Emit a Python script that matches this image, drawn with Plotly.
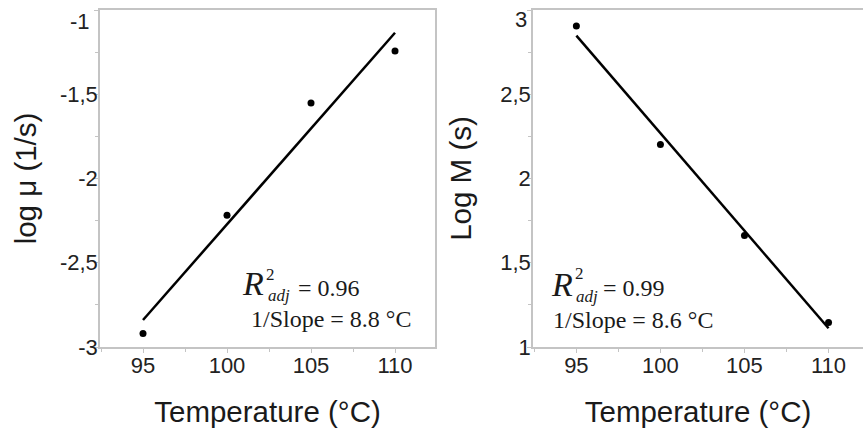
import plotly.graph_objects as go

# ---------------- data ----------------
temperature = [95, 100, 105, 110]
log_mu = [-2.92, -2.218, -1.552, -1.244]
log_m = [2.905, 2.202, 1.662, 1.145]

fit_x = [95, 110]
fit_log_mu = [-2.84, -1.135]
fit_log_m = [2.848, 1.111]

x_ticks = [95, 100, 105, 110]
x_ticktext = ["95", "100", "105", "110"]
y1_ticks = [-3, -2.5, -2, -1.5, -1]
y1_ticktext = ["-3", "-2,5", "-2", "-1,5", "-1"]
y2_ticks = [1, 1.5, 2, 2.5, 3]
y2_ticktext = ["1", "1,5", "2", "2,5", "3"]

r2_left = "0.96"
slope_left = "8.8"
r2_right = "0.99"
slope_right = "8.6"

# ---------------- layout helpers ----------------
W, H = 863, 437
TOP, BOTTOM = 10, 347

def px(x):
    return x / W

def py(y):
    return (BOTTOM - y) / (BOTTOM - TOP)

AX_COLOR = "#c4c4c4"
TXT = "#1a1a1a"
TICK_FONT = dict(family="Liberation Sans, Arial", size=22, color="#222222")
TITLE_FONT = dict(family="Liberation Sans, Arial", size=29.5, color=TXT)
SERIF = "Liberation Serif, Times New Roman, serif"

fig = go.Figure()

fig.add_trace(go.Scatter(x=fit_x, y=fit_log_mu, mode="lines",
                         line=dict(color="black", width=2.5),
                         xaxis="x", yaxis="y", showlegend=False, hoverinfo="skip"))
fig.add_trace(go.Scatter(x=temperature, y=log_mu, mode="markers",
                         marker=dict(color="black", size=7),
                         xaxis="x", yaxis="y", showlegend=False))
fig.add_trace(go.Scatter(x=fit_x, y=fit_log_m, mode="lines",
                         line=dict(color="black", width=2.5),
                         xaxis="x2", yaxis="y2", showlegend=False, hoverinfo="skip"))
fig.add_trace(go.Scatter(x=temperature, y=log_m, mode="markers",
                         marker=dict(color="black", size=7),
                         xaxis="x2", yaxis="y2", showlegend=False))

def xaxis_cfg(domain, rng, mirror):
    return dict(domain=domain, range=rng,
                tickmode="array", tickvals=x_ticks, ticktext=x_ticktext,
                ticks="outside", ticklen=4, tickwidth=1, tickcolor=AX_COLOR,
                minor=dict(ticks="outside", ticklen=3, dtick=2.5, tick0=95, tickcolor=AX_COLOR, showgrid=False),
                showline=True, linecolor=AX_COLOR, linewidth=1.5, mirror=mirror,
                showgrid=False, zeroline=False, automargin=False,
                tickfont=TICK_FONT, ticklabelstandoff=-6, ticklabeloverflow="allow",
                title=dict(text="Temperature (°C)", font=TITLE_FONT, standoff=24))

def yaxis_cfg(tickvals, ticktext, rng, title, mirror, standoff):
    # the top label is drawn separately (pushed inside the figure like the reference)
    shown = list(ticktext[:-1]) + [""]
    return dict(domain=[0, 1], range=rng,
                tickmode="array", tickvals=tickvals, ticktext=shown,
                ticks="outside", ticklen=4, tickwidth=1, tickcolor=AX_COLOR,
                minor=dict(ticks="outside", ticklen=3, dtick=0.25, tick0=1, tickcolor=AX_COLOR, showgrid=False),
                showline=True, linecolor=AX_COLOR, linewidth=1.5, mirror=mirror,
                showgrid=False, zeroline=False, automargin=False,
                tickfont=TICK_FONT, ticklabelstandoff=-8, ticklabelshift=0,
                ticklabeloverflow="allow",
                title=dict(text=title, font=TITLE_FONT, standoff=standoff))

xa1 = xaxis_cfg([px(100), px(435)], [92.44, 112.38], True)
xa1["anchor"] = "y"
xa2 = xaxis_cfg([px(533), 1.0], [92.42, 112.05], True)
xa2["anchor"] = "y2"
ya1 = yaxis_cfg(y1_ticks, y1_ticktext, [-3, -1], "log μ (1/s)", True, 15)
ya1["anchor"] = "x"
ya2 = yaxis_cfg(y2_ticks, y2_ticktext, [1, 3], "Log M (s)", False, 20)
ya2["anchor"] = "x2"

annotations = []

def ann(text, x, y, size, xanchor="left", family=SERIF, color=TXT):
    annotations.append(dict(text=text, x=px(x), y=py(y), xref="paper", yref="paper",
                            xanchor=xanchor, yanchor="middle", showarrow=False,
                            font=dict(family=family, size=size, color=color)))

# top tick labels, pushed inside the figure
ann(y1_ticktext[-1], 92, 21, 22, xanchor="right", family=TICK_FONT["family"], color=TICK_FONT["color"])
ann(y2_ticktext[-1], 529, 19, 22, xanchor="right", family=TICK_FONT["family"], color=TICK_FONT["color"])

# left panel statistics
ann("<i>R</i>", 240, 283.5, 34)
ann("2", 270, 274, 17, xanchor="center")
ann("<i>adj</i>", 266, 295.5, 17)
ann("= " + r2_left, 296, 288, 24)
ann("1/Slope = " + slope_left + " °C", 249, 319, 24)
# right panel statistics
ann("<i>R</i>", 549, 284.5, 34)
ann("2", 579, 273, 17, xanchor="center")
ann("<i>adj</i>", 574, 296, 17)
ann("= " + r2_right, 601, 288, 24)
ann("1/Slope = " + slope_right + " °C", 551, 320, 24)

fig.update_layout(
    width=W, height=H,
    margin=dict(l=0, r=0, t=TOP, b=H - BOTTOM, pad=0),
    paper_bgcolor="white", plot_bgcolor="white",
    xaxis=xa1, yaxis=ya1, xaxis2=xa2, yaxis2=ya2,
    annotations=annotations,
    showlegend=False,
)

fig.write_html("out.html")
